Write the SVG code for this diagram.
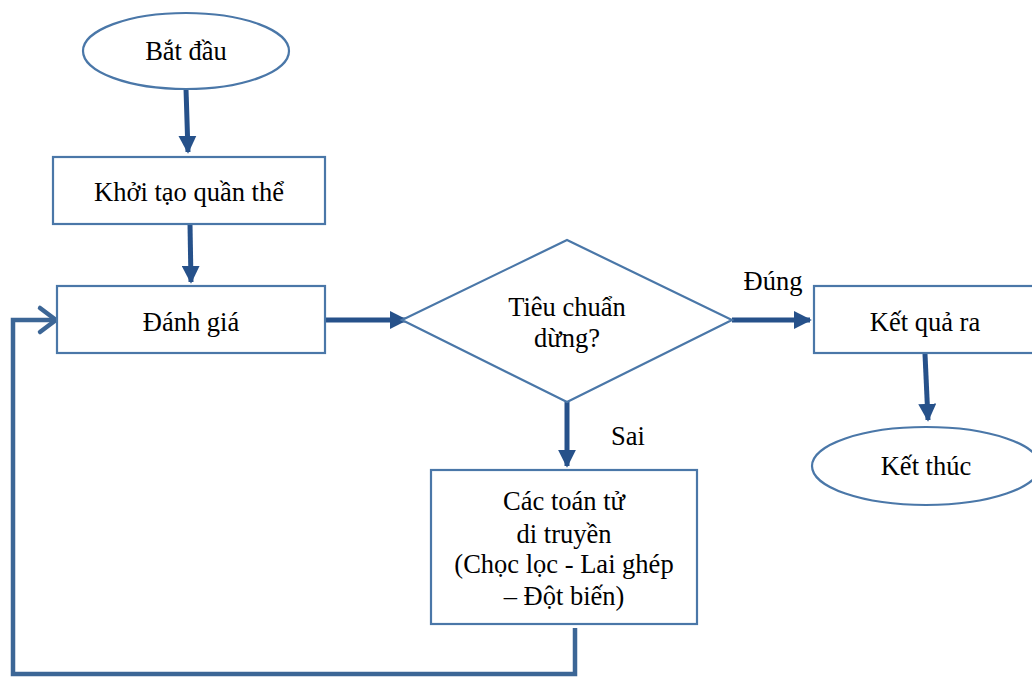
<svg xmlns="http://www.w3.org/2000/svg" width="1032" height="677" viewBox="0 0 1032 677">
<defs>
<style>
.n{fill:#fff;stroke:#4a77a8;stroke-width:2.2}
.t{font-family:'Liberation Serif','DejaVu Serif','Times New Roman',serif;font-size:26.5px;fill:#000;text-anchor:middle}
.c{fill:none;stroke:#26518a;stroke-width:5}
</style>
<marker id="ah" viewBox="0 0 10 10" refX="9" refY="5" markerWidth="3.6" markerHeight="3.6" orient="auto" markerUnits="strokeWidth">
<path d="M0,0 L10,5 L0,10 z" fill="#26518a"/>
</marker>
</defs>
<rect width="1032" height="677" fill="#fff"/>
<g id="connectors">
<path class="c" d="M186,89 L188,152" marker-end="url(#ah)"/>
<path class="c" d="M190,224 L191,282" marker-end="url(#ah)"/>
<path class="c" d="M325,320 L406,320" marker-end="url(#ah)"/>
<path class="c" d="M732,320 L810,320" marker-end="url(#ah)"/>
<path class="c" d="M567,402 L567,466" marker-end="url(#ah)"/>
<path class="c" d="M925,354 L928,420" marker-end="url(#ah)"/>
<path d="M575,628 L575,674 L13,674 L13,320 L55,320" fill="none" stroke="#3c6696" stroke-width="4.5"/>
<path d="M40,308 L56,320 L40,332" fill="none" stroke="#3c6696" stroke-width="4.5" stroke-linecap="round" stroke-linejoin="round"/>
<text class="t" x="773" y="290">Đúng</text>
<text class="t" x="628" y="445">Sai</text>
</g>
<g id="start">
<ellipse class="n" cx="186" cy="51" rx="103" ry="38"/>
<text class="t" x="186" y="60">Bắt đầu</text>
</g>
<g id="init">
<rect class="n" x="53" y="157" width="272" height="67"/>
<text class="t" x="189" y="201">Khởi tạo quần thể</text>
</g>
<g id="eval">
<rect class="n" x="57" y="286" width="268" height="67"/>
<text class="t" x="191" y="331">Đánh giá</text>
</g>
<g id="decision">
<polygon class="n" points="402,320 567,240 732,320 567,402"/>
<text class="t" x="567" y="316">Tiêu chuẩn</text>
<text class="t" x="567" y="347">dừng?</text>
</g>
<g id="result">
<rect class="n" x="814" y="286" width="222" height="67"/>
<text class="t" x="925" y="331">Kết quả ra</text>
</g>
<g id="end">
<ellipse class="n" cx="926" cy="466" rx="114" ry="39"/>
<text class="t" x="926" y="475">Kết thúc</text>
</g>
<g id="operators">
<rect class="n" x="431" y="470" width="266" height="154"/>
<text class="t" x="564" y="510">Các toán tử</text>
<text class="t" x="564" y="543">di truyền</text>
<text class="t" x="564" y="573">(Chọc lọc - Lai ghép</text>
<text class="t" x="564" y="605">– Đột biến)</text>
</g>
</svg>
